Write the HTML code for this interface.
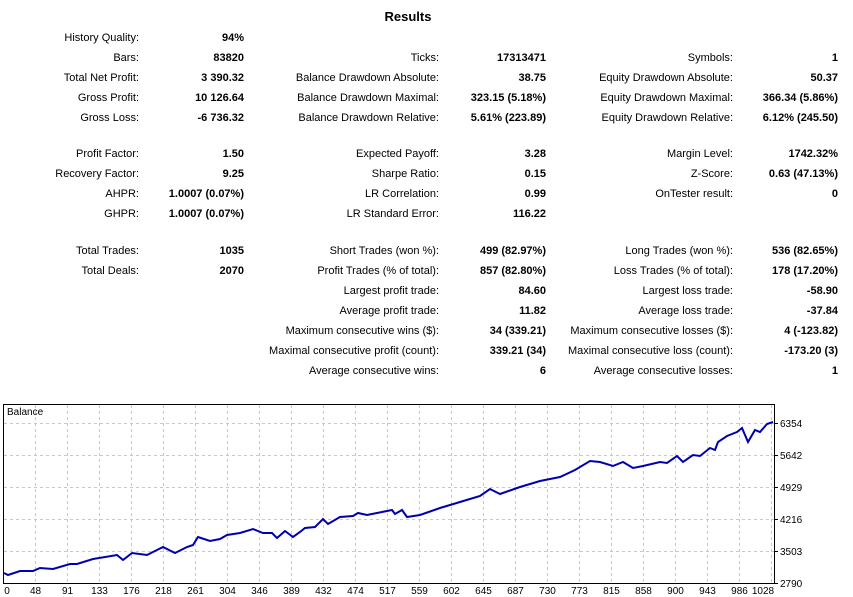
<!DOCTYPE html>
<html><head><meta charset="utf-8"><style>
body{margin:0;width:853px;height:597px;background:#fff;font-family:"Liberation Sans",sans-serif;font-size:11px;color:#000;position:relative;overflow:hidden}
.l,.v{position:absolute;white-space:nowrap;text-align:right;line-height:13px}
.v{font-weight:bold}
#t{position:absolute;left:0;width:816px;top:9px;text-align:center;font-weight:bold;font-size:13px}
</style></head><body>
<div id="t">Results</div>
<div class="l" style="right:714px;top:32px">History Quality:</div><div class="v" style="right:609px;top:32px">94%</div>
<div class="l" style="right:714px;top:52px">Bars:</div><div class="v" style="right:609px;top:52px">83820</div>
<div class="l" style="right:714px;top:72px">Total Net Profit:</div><div class="v" style="right:609px;top:72px">3 390.32</div>
<div class="l" style="right:714px;top:92px">Gross Profit:</div><div class="v" style="right:609px;top:92px">10 126.64</div>
<div class="l" style="right:714px;top:112px">Gross Loss:</div><div class="v" style="right:609px;top:112px">-6 736.32</div>
<div class="l" style="right:714px;top:148px">Profit Factor:</div><div class="v" style="right:609px;top:148px">1.50</div>
<div class="l" style="right:714px;top:168px">Recovery Factor:</div><div class="v" style="right:609px;top:168px">9.25</div>
<div class="l" style="right:714px;top:188px">AHPR:</div><div class="v" style="right:609px;top:188px">1.0007 (0.07%)</div>
<div class="l" style="right:714px;top:208px">GHPR:</div><div class="v" style="right:609px;top:208px">1.0007 (0.07%)</div>
<div class="l" style="right:714px;top:245px">Total Trades:</div><div class="v" style="right:609px;top:245px">1035</div>
<div class="l" style="right:714px;top:265px">Total Deals:</div><div class="v" style="right:609px;top:265px">2070</div>

<div class="l" style="right:414px;top:52px">Ticks:</div><div class="v" style="right:307px;top:52px">17313471</div>
<div class="l" style="right:414px;top:72px">Balance Drawdown Absolute:</div><div class="v" style="right:307px;top:72px">38.75</div>
<div class="l" style="right:414px;top:92px">Balance Drawdown Maximal:</div><div class="v" style="right:307px;top:92px">323.15 (5.18%)</div>
<div class="l" style="right:414px;top:112px">Balance Drawdown Relative:</div><div class="v" style="right:307px;top:112px">5.61% (223.89)</div>
<div class="l" style="right:414px;top:148px">Expected Payoff:</div><div class="v" style="right:307px;top:148px">3.28</div>
<div class="l" style="right:414px;top:168px">Sharpe Ratio:</div><div class="v" style="right:307px;top:168px">0.15</div>
<div class="l" style="right:414px;top:188px">LR Correlation:</div><div class="v" style="right:307px;top:188px">0.99</div>
<div class="l" style="right:414px;top:208px">LR Standard Error:</div><div class="v" style="right:307px;top:208px">116.22</div>
<div class="l" style="right:414px;top:245px">Short Trades (won %):</div><div class="v" style="right:307px;top:245px">499 (82.97%)</div>
<div class="l" style="right:414px;top:265px">Profit Trades (% of total):</div><div class="v" style="right:307px;top:265px">857 (82.80%)</div>
<div class="l" style="right:414px;top:285px">Largest profit trade:</div><div class="v" style="right:307px;top:285px">84.60</div>
<div class="l" style="right:414px;top:305px">Average profit trade:</div><div class="v" style="right:307px;top:305px">11.82</div>
<div class="l" style="right:414px;top:325px">Maximum consecutive wins ($):</div><div class="v" style="right:307px;top:325px">34 (339.21)</div>
<div class="l" style="right:414px;top:345px">Maximal consecutive profit (count):</div><div class="v" style="right:307px;top:345px">339.21 (34)</div>
<div class="l" style="right:414px;top:365px">Average consecutive wins:</div><div class="v" style="right:307px;top:365px">6</div>

<div class="l" style="right:120px;top:52px">Symbols:</div><div class="v" style="right:15px;top:52px">1</div>
<div class="l" style="right:120px;top:72px">Equity Drawdown Absolute:</div><div class="v" style="right:15px;top:72px">50.37</div>
<div class="l" style="right:120px;top:92px">Equity Drawdown Maximal:</div><div class="v" style="right:15px;top:92px">366.34 (5.86%)</div>
<div class="l" style="right:120px;top:112px">Equity Drawdown Relative:</div><div class="v" style="right:15px;top:112px">6.12% (245.50)</div>
<div class="l" style="right:120px;top:148px">Margin Level:</div><div class="v" style="right:15px;top:148px">1742.32%</div>
<div class="l" style="right:120px;top:168px">Z-Score:</div><div class="v" style="right:15px;top:168px">0.63 (47.13%)</div>
<div class="l" style="right:120px;top:188px">OnTester result:</div><div class="v" style="right:15px;top:188px">0</div>
<div class="l" style="right:120px;top:245px">Long Trades (won %):</div><div class="v" style="right:15px;top:245px">536 (82.65%)</div>
<div class="l" style="right:120px;top:265px">Loss Trades (% of total):</div><div class="v" style="right:15px;top:265px">178 (17.20%)</div>
<div class="l" style="right:120px;top:285px">Largest loss trade:</div><div class="v" style="right:15px;top:285px">-58.90</div>
<div class="l" style="right:120px;top:305px">Average loss trade:</div><div class="v" style="right:15px;top:305px">-37.84</div>
<div class="l" style="right:120px;top:325px">Maximum consecutive losses ($):</div><div class="v" style="right:15px;top:325px">4 (-123.82)</div>
<div class="l" style="right:120px;top:345px">Maximal consecutive loss (count):</div><div class="v" style="right:15px;top:345px">-173.20 (3)</div>
<div class="l" style="right:120px;top:365px">Average consecutive losses:</div><div class="v" style="right:15px;top:365px">1</div>

<svg width="853" height="597" style="position:absolute;left:0;top:0" font-family="Liberation Sans, sans-serif" font-size="10">
<g stroke="#c8c8c8" stroke-dasharray="3,3" stroke-width="1">
<line x1="4" y1="423.5" x2="775" y2="423.5"/><line x1="4" y1="455.5" x2="775" y2="455.5"/><line x1="4" y1="487.5" x2="775" y2="487.5"/><line x1="4" y1="519.5" x2="775" y2="519.5"/><line x1="4" y1="551.5" x2="775" y2="551.5"/>
<line x1="35.5" y1="405" x2="35.5" y2="583"/><line x1="67.5" y1="405" x2="67.5" y2="583"/><line x1="99.5" y1="405" x2="99.5" y2="583"/><line x1="131.5" y1="405" x2="131.5" y2="583"/><line x1="163.5" y1="405" x2="163.5" y2="583"/><line x1="195.5" y1="405" x2="195.5" y2="583"/><line x1="227.5" y1="405" x2="227.5" y2="583"/><line x1="259.5" y1="405" x2="259.5" y2="583"/><line x1="291.5" y1="405" x2="291.5" y2="583"/><line x1="323.5" y1="405" x2="323.5" y2="583"/><line x1="355.5" y1="405" x2="355.5" y2="583"/><line x1="387.5" y1="405" x2="387.5" y2="583"/><line x1="419.5" y1="405" x2="419.5" y2="583"/><line x1="451.5" y1="405" x2="451.5" y2="583"/><line x1="483.5" y1="405" x2="483.5" y2="583"/><line x1="515.5" y1="405" x2="515.5" y2="583"/><line x1="547.5" y1="405" x2="547.5" y2="583"/><line x1="579.5" y1="405" x2="579.5" y2="583"/><line x1="611.5" y1="405" x2="611.5" y2="583"/><line x1="643.5" y1="405" x2="643.5" y2="583"/><line x1="675.5" y1="405" x2="675.5" y2="583"/><line x1="707.5" y1="405" x2="707.5" y2="583"/><line x1="739.5" y1="405" x2="739.5" y2="583"/><line x1="771.5" y1="405" x2="771.5" y2="583"/>
</g>
<rect x="3.5" y="404.5" width="771" height="179" fill="none" stroke="#000"/>
<g stroke="#000"><line x1="775" y1="423.5" x2="778" y2="423.5"/><line x1="775" y1="455.5" x2="778" y2="455.5"/><line x1="775" y1="487.5" x2="778" y2="487.5"/><line x1="775" y1="519.5" x2="778" y2="519.5"/><line x1="775" y1="551.5" x2="778" y2="551.5"/><line x1="775" y1="583.5" x2="778" y2="583.5"/></g>
<text x="7" y="415">Balance</text>
<g>
<text x="780" y="427">6354</text><text x="780" y="459">5642</text><text x="780" y="491">4929</text><text x="780" y="523">4216</text><text x="780" y="555">3503</text><text x="780" y="587">2790</text>
</g>
<g text-anchor="middle">
<text x="7" y="594">0</text><text x="35.5" y="594">48</text><text x="67.5" y="594">91</text><text x="99.5" y="594">133</text><text x="131.5" y="594">176</text><text x="163.5" y="594">218</text><text x="195.5" y="594">261</text><text x="227.5" y="594">304</text><text x="259.5" y="594">346</text><text x="291.5" y="594">389</text><text x="323.5" y="594">432</text><text x="355.5" y="594">474</text><text x="387.5" y="594">517</text><text x="419.5" y="594">559</text><text x="451.5" y="594">602</text><text x="483.5" y="594">645</text><text x="515.5" y="594">687</text><text x="547.5" y="594">730</text><text x="579.5" y="594">773</text><text x="611.5" y="594">815</text><text x="643.5" y="594">858</text><text x="675.5" y="594">900</text><text x="707.5" y="594">943</text><text x="739.5" y="594">986</text><text x="763" y="594">1028</text>
</g>
<polyline fill="none" stroke="#0000b0" stroke-width="2" points="4,573 8,575 20,571 33,571 40,568 53,569 70,564 77,564 93,559 117,555 123,560 132,553 147,555 163,547 175,553 187,547 193,545 198,537 210,541 220,539 227,535 240,533 253,529 263,533 272,533 277,538 285,531 293,537 300,532 305,528 315,527 323,519 328,524 340,517 353,516 358,513 367,515 377,513 392,510 395,514 402,510 407,517 420,515 440,508 460,502 480,496 490,489 500,494 520,487 540,481 560,477 575,470 590,461 600,462 613,466 623,462 633,468 643,466 660,462 667,463 677,456 683,462 693,455 700,456 710,448 715,450 718,442 727,436 737,432 742,428 748,442 755,430 760,432 767,424 773,422"/>
</svg>
</body></html>
